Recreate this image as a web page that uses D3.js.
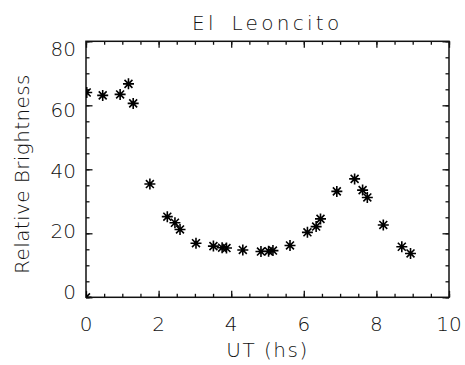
<!DOCTYPE html>
<html>
<head>
<meta charset="utf-8">
<script src="https://cdn.jsdelivr.net/npm/d3@7"></script>
<style>
  html, body { margin: 0; padding: 0; background: #fff; }
  svg text { font-family: "DejaVu Sans", sans-serif; font-weight: 200; fill: #111; }
  .labels { opacity: 0.995; }
</style>
</head>
<body>
<svg id="chart" width="465" height="365"></svg>
<script>
// Observation times (UT, hours) and relative brightness
const utHours = [0.00, 0.02, 0.46, 0.94, 1.17, 1.30, 1.76, 2.24, 2.45, 2.59, 3.03,
                 3.51, 3.75, 3.87, 4.32, 4.82, 5.03, 5.15, 5.62, 6.10, 6.34, 6.46,
                 6.91, 7.40, 7.62, 7.75, 8.19, 8.70, 8.94];
const brightness = [0.0, 64.0, 63.1, 63.4, 66.7, 60.6, 35.4, 25.2, 23.3, 21.2, 16.9,
                    16.0, 15.5, 15.4, 14.8, 14.3, 14.4, 14.6, 16.2, 20.3, 22.1, 24.5,
                    33.1, 37.0, 33.5, 31.2, 22.6, 15.8, 13.7];
const xTickLabels = ["0", "2", "4", "6", "8", "10"];
const yTickLabels = ["0", "20", "40", "60", "80"];

const svg = d3.select("#chart");
const plotL = 86, plotR = 449, plotT = 41.3, plotB = 297.3;

const x = d3.scaleLinear().domain([0, 10]).range([plotL, plotR]);
const y = d3.scaleLinear().domain([0, 80]).range([plotB, plotT]);
// tick-label placement along the y axis
const yLab = d3.scaleLinear().domain([0, 80]).range([292, 49]);

const majorX = d3.range(0, 10.001, 2), minorX = d3.range(0, 10.001, 0.5);
const majorY = d3.range(0, 80.001, 20), minorY = d3.range(0, 80.001, 5);

function styleAxis(g) {
  g.select(".domain").remove();
  g.selectAll("line").attr("stroke", "#111").attr("stroke-width", 1.3);
  g.selectAll("text").remove();
}

// ticks on all four sides
const majLen = 6.5, minLen = 3.5;
svg.append("g").attr("transform", `translate(0,${plotB})`)
  .call(d3.axisBottom(x).tickValues(minorX).tickSize(-minLen)).call(styleAxis);
svg.append("g").attr("transform", `translate(0,${plotB})`)
  .call(d3.axisBottom(x).tickValues(majorX).tickSize(-majLen)).call(styleAxis);
svg.append("g").attr("transform", `translate(0,${plotT})`)
  .call(d3.axisTop(x).tickValues(minorX).tickSize(-minLen)).call(styleAxis);
svg.append("g").attr("transform", `translate(0,${plotT})`)
  .call(d3.axisTop(x).tickValues(majorX).tickSize(-majLen)).call(styleAxis);
svg.append("g").attr("transform", `translate(${plotL},0)`)
  .call(d3.axisLeft(y).tickValues(minorY).tickSize(-minLen)).call(styleAxis);
svg.append("g").attr("transform", `translate(${plotL},0)`)
  .call(d3.axisLeft(y).tickValues(majorY).tickSize(-majLen)).call(styleAxis);
svg.append("g").attr("transform", `translate(${plotR},0)`)
  .call(d3.axisRight(y).tickValues(minorY).tickSize(-minLen)).call(styleAxis);
svg.append("g").attr("transform", `translate(${plotR},0)`)
  .call(d3.axisRight(y).tickValues(majorY).tickSize(-majLen)).call(styleAxis);

// frame
svg.append("rect")
  .attr("x", plotL).attr("y", plotT)
  .attr("width", plotR - plotL).attr("height", plotB - plotT)
  .attr("fill", "none").attr("stroke", "#111").attr("stroke-width", 1.5);

const labels = svg.append("g").attr("class", "labels");

// tick labels
labels.append("g").selectAll("text").data(xTickLabels).join("text")
  .attr("x", d => x(+d)).attr("y", 330.5)
  .attr("text-anchor", "middle").attr("font-size", 20)
  .text(d => d);
labels.append("g").selectAll("text").data(yTickLabels).join("text")
  .attr("x", 76).attr("y", d => yLab(+d)).attr("dy", "0.36em")
  .attr("text-anchor", "end").attr("font-size", 20)
  .text(d => d);

// titles
labels.append("text").attr("x", 192).attr("y", 30)
  .attr("font-size", 20).attr("letter-spacing", 3.3).attr("word-spacing", 5)
  .text("El Leoncito");
labels.append("text").attr("x", (plotL + plotR) / 2).attr("y", 357)
  .attr("text-anchor", "middle").attr("font-size", 20).attr("letter-spacing", 1.5)
  .text("UT (hs)");
labels.append("text")
  .attr("transform", `translate(29,174) rotate(-90)`)
  .attr("text-anchor", "middle").attr("font-size", 20).attr("letter-spacing", 0.4)
  .text("Relative Brightness");

// asterisk markers, clipped to the plot box
svg.append("clipPath").attr("id", "plotClip")
  .append("rect").attr("x", plotL).attr("y", plotT)
  .attr("width", plotR - plotL).attr("height", plotB - plotT);

const r = 5.5, rd = r * 0.72;
const star = `M${-r},0L${r},0M0,${-r}L0,${r}M${-rd},${-rd}L${rd},${rd}M${-rd},${rd}L${rd},${-rd}`;
svg.append("g").attr("clip-path", "url(#plotClip)")
  .selectAll("path").data(utHours).join("path")
  .attr("transform", (d, i) => `translate(${x(d)},${y(brightness[i])})`)
  .attr("d", star)
  .attr("fill", "none").attr("stroke", "#000").attr("stroke-width", 1.6);
</script>
</body>
</html>
